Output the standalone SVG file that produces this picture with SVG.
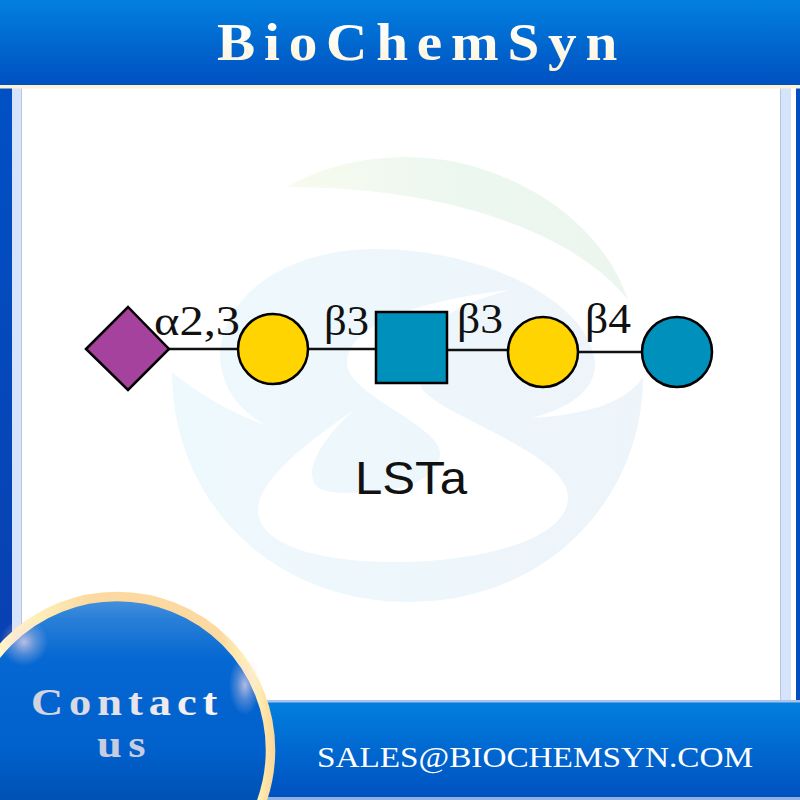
<svg xmlns="http://www.w3.org/2000/svg" width="800" height="800" viewBox="0 0 800 800">
<style>
.b{stroke:#000;stroke-width:2.5}
.l{font-family:"Liberation Serif",serif;font-size:43px;fill:#111}
.c{stroke:#111;stroke-width:2.5;fill:none}
.hd{font-family:"Liberation Serif",serif;font-weight:700}
</style>
<defs>
<linearGradient id="hg" x1="0" y1="0" x2="0" y2="1"><stop offset="0" stop-color="#0280e0"/><stop offset="1" stop-color="#0050c0"/></linearGradient>
<linearGradient id="sg" x1="0" y1="0" x2="0" y2="1"><stop offset="0" stop-color="#0050c4"/><stop offset="1" stop-color="#0a3fb0"/></linearGradient>
<linearGradient id="tg" x1="0" y1="0" x2="0" y2="1"><stop offset="0.2" stop-color="#fff"/><stop offset="1" stop-color="#fdf2d4"/></linearGradient>
<linearGradient id="ct" x1="0" y1="0" x2="1" y2="0"><stop offset="0" stop-color="#d0d2e0"/><stop offset="1" stop-color="#fbf5f5"/></linearGradient>
<linearGradient id="ring" gradientUnits="userSpaceOnUse" x1="-40" y1="0" x2="275" y2="0"><stop offset="0" stop-color="#fff8d0"/><stop offset="0.2" stop-color="#fff3c0"/><stop offset="0.42" stop-color="#fbd9a0"/><stop offset="0.82" stop-color="#fbd9a0"/><stop offset="0.93" stop-color="#fff6bc"/><stop offset="1" stop-color="#fbd596"/></linearGradient>
<linearGradient id="disc" x1="0" y1="0" x2="0" y2="1"><stop offset="0" stop-color="#4c93dc"/><stop offset="0.07" stop-color="#2a80d8"/><stop offset="0.2" stop-color="#0668d2"/><stop offset="0.5" stop-color="#0060cc"/><stop offset="0.68" stop-color="#0050b0"/><stop offset="1" stop-color="#0058c4"/></linearGradient>
<linearGradient id="wm" x1="0" y1="0" x2="1" y2="0"><stop offset="0" stop-color="#eef9fd"/><stop offset="1" stop-color="#edf4fa"/></linearGradient>
<linearGradient id="gm" x1="0" y1="0" x2="1" y2="0"><stop offset="0" stop-color="#f8fbee"/><stop offset="0.5" stop-color="#ecf7f0"/><stop offset="1" stop-color="#ecf6ee"/></linearGradient>
<radialGradient id="glow"><stop offset="0" stop-color="#fbe0ea" stop-opacity="0.7"/><stop offset="0.5" stop-color="#f6d4e4" stop-opacity="0.3"/><stop offset="1" stop-color="#f6d4e4" stop-opacity="0"/></radialGradient>
</defs>
<rect width="800" height="800" fill="#fff"/>
<g id="frame">
<rect x="0" y="88" width="12" height="620" fill="url(#sg)"/>
<rect x="12" y="88" width="9" height="620" fill="#d6e4fb"/>
<rect x="21" y="88" width="1" height="620" fill="#b9c6dc"/>
<rect x="780" y="88" width="1" height="620" fill="#b9c6dc"/>
<rect x="781" y="88" width="10" height="620" fill="#d6e4fb"/>
<rect x="796" y="88" width="4" height="620" fill="#0050c4"/>
</g>
<g id="watermark">
<path d="M287,187 C320,168 360,157 407,157 C500,157 600,215 628,300 C590,250 480,187 287,187 Z" fill="url(#gm)"/>
<path d="M172,372 C172,500 270,602 410,602 C545,602 643,500 643,377 C625,405 580,415 532,418 C580,405 595,385 595,363 C590,300 480,249 377,249 C280,249 220,300 220,357 C222,390 240,410 265,425 C230,412 200,395 172,372 Z" fill="url(#wm)"/>
<path d="M510,290 C420,300 347,325 347,363 C347,395 440,425 440,453 C440,480 400,493 350,493 C325,493 312,490 312,473 C312,455 335,425 357,408 C310,440 258,480 258,510 C258,545 320,562 393,562 C480,562 568,540 568,497 C568,450 420,410 420,383 C400,350 430,310 510,290 Z" fill="#fff"/>
</g>
<g id="connectors">
<line class="c" x1="169" y1="349" x2="240" y2="349"/>
<line class="c" x1="307" y1="349" x2="376" y2="349"/>
<line class="c" x1="447" y1="350" x2="508" y2="350"/>
<line class="c" x1="578" y1="352" x2="642" y2="352"/>
</g>
<g id="node-diamond"><polygon class="b" points="86,349 128,307 169,349 128,390" fill="#a5429e"/></g>
<g id="node-gold1"><circle class="b" cx="273" cy="349" r="35" fill="#ffd400"/></g>
<g id="node-square"><rect class="b" x="376" y="312" width="71" height="71" fill="#0090bc"/></g>
<g id="node-gold2"><circle class="b" cx="543" cy="352" r="35" fill="#ffd400"/></g>
<g id="node-blue"><circle class="b" cx="677" cy="352" r="35" fill="#0090bc"/></g>
<g id="labels">
<text class="l" x="154" y="335" textLength="86" lengthAdjust="spacingAndGlyphs">α2,3</text>
<text class="l" x="324" y="335" textLength="45" lengthAdjust="spacingAndGlyphs">β3</text>
<text class="l" x="457" y="333" textLength="46" lengthAdjust="spacingAndGlyphs">β3</text>
<text class="l" x="585" y="333" textLength="46" lengthAdjust="spacingAndGlyphs">β4</text>
<text x="355" y="494" font-family="'Liberation Sans',sans-serif" font-size="46" fill="#111" textLength="112" lengthAdjust="spacingAndGlyphs">LSTa</text>
</g>
<g id="header">
<rect width="800" height="85" fill="url(#hg)"/>
<rect y="85" width="800" height="3.500" fill="#fdf2d8"/>
<text class="hd" transform="translate(217,60) scale(1.1,1)" font-size="52" letter-spacing="8" fill="url(#tg)">BioChemSyn</text>
</g>
<g id="footer">
<rect x="200" y="700" width="600" height="100" fill="url(#hg)"/>
<rect x="200" y="700" width="600" height="2.500" fill="#a9c3ea"/>
<rect x="200" y="797" width="600" height="3" fill="#8fb0e2"/>
<text x="317" y="767" font-family="'Liberation Serif',serif" font-size="30" fill="#fff" textLength="436" lengthAdjust="spacingAndGlyphs">SALES@BIOCHEMSYN.COM</text>
</g>
<g id="contact">
<circle cx="117" cy="750" r="153.500" fill="url(#disc)" stroke="url(#ring)" stroke-width="9.500"/>
<ellipse cx="24" cy="642" rx="24" ry="24" fill="url(#glow)"/>
<ellipse cx="245" cy="685" rx="16" ry="30" fill="url(#glow)"/>
<text class="hd" transform="translate(31,715) scale(1.2,1)" font-size="37" letter-spacing="5" fill="url(#ct)">Contact</text>
<text class="hd" transform="translate(97,757) scale(1.2,1)" font-size="37" letter-spacing="5.500" fill="#c8cce0">us</text>
</g>
</svg>
